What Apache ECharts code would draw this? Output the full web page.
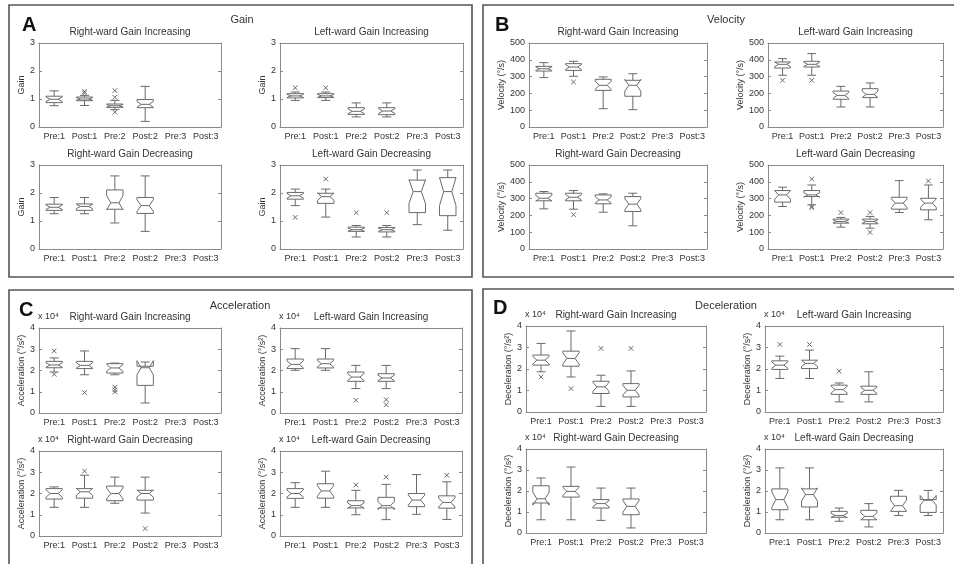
<!DOCTYPE html>
<html>
<head>
<meta charset="utf-8">
<script src="https://cdn.jsdelivr.net/npm/echarts@6/dist/echarts.min.js"></script>
<style>
html, body { margin: 0; padding: 0; background: #fff; }
#main { width: 954px; height: 564px; }
</style>
</head>
<body>
<div id="main"></div>
<script>
var cats = ['Pre:1', 'Post:1', 'Pre:2', 'Post:2', 'Pre:3', 'Post:3'];
var plotTitles = ['Right-ward Gain Increasing', 'Left-ward Gain Increasing', 'Right-ward Gain Decreasing', 'Left-ward Gain Decreasing'];

// each box: [lower whisker, q1, median, q3, upper whisker], one per category
// outliers: [category index, value]

// A - Gain
var gainRI = [[0.76, 0.87, 0.99, 1.10, 1.29], [0.77, 0.94, 1.00, 1.07, 1.13], [0.62, 0.70, 0.76, 0.82, 0.95], [0.20, 0.69, 0.81, 0.98, 1.45]];
var gainRIOut = [[1, 1.27], [1, 1.21], [2, 1.30], [2, 1.06], [2, 0.53]];
var gainLI = [[0.95, 1.04, 1.11, 1.19, 1.25], [0.95, 1.05, 1.11, 1.19, 1.25], [0.36, 0.45, 0.56, 0.69, 0.86], [0.36, 0.44, 0.57, 0.69, 0.86]];
var gainLIOut = [[0, 1.40], [1, 1.40]];
var gainRD = [[1.26, 1.38, 1.49, 1.60, 1.84], [1.26, 1.38, 1.52, 1.61, 1.84], [0.93, 1.42, 1.65, 2.11, 2.61], [0.63, 1.27, 1.55, 1.84, 2.61]];
var gainRDOut = [];
var gainLD = [[1.55, 1.78, 1.90, 2.02, 2.14], [1.14, 1.63, 1.87, 1.99, 2.14], [0.43, 0.63, 0.69, 0.78, 0.84], [0.43, 0.61, 0.69, 0.77, 0.84], [0.87, 1.30, 2.05, 2.46, 2.82], [0.67, 1.19, 2.05, 2.55, 2.82]];
var gainLDOut = [[0, 1.13], [1, 2.50], [2, 1.30], [3, 1.30]];

// B - Velocity (deg/s)
var velRI = [[294, 333, 347, 361, 383], [302, 337, 357, 377, 391], [109, 218, 248, 284, 298], [103, 183, 248, 278, 317]];
var velRIOut = [[1, 268]];
var velLI = [[308, 351, 373, 387, 407], [308, 357, 373, 391, 437], [119, 165, 188, 214, 242], [119, 175, 194, 228, 262]];
var velLIOut = [[0, 278], [1, 278]];
var velRD = [[239, 287, 302, 332, 342], [237, 287, 308, 332, 348], [219, 269, 292, 322, 328], [138, 223, 267, 312, 332]];
var velRDOut = [[1, 204]];
var velLD = [[253, 279, 322, 348, 368], [263, 312, 322, 348, 381], [130, 154, 164, 178, 188], [124, 150, 164, 178, 194], [217, 237, 273, 308, 407], [174, 233, 273, 302, 381]];
var velLDOut = [[1, 417], [1, 253], [1, 247], [2, 217], [3, 217], [3, 99], [5, 405]];

// C - Acceleration (x 10^4 deg/s^2)
var accRI = [[1.93, 2.13, 2.26, 2.43, 2.59], [1.80, 2.09, 2.24, 2.43, 2.92], [1.80, 1.88, 2.12, 2.32, 2.35], [0.47, 1.30, 2.13, 2.20, 2.40]];
var accRIOut = [[0, 2.92], [0, 1.82], [1, 0.96], [2, 1.22], [2, 1.10], [2, 0.99]];
var accLI = [[2.01, 2.09, 2.29, 2.54, 3.03], [2.01, 2.12, 2.32, 2.54, 3.03], [1.15, 1.49, 1.69, 1.93, 2.24], [1.15, 1.49, 1.65, 1.85, 2.24]];
var accLIOut = [[2, 0.60], [3, 0.63], [3, 0.39]];
var accRD = [[1.35, 1.74, 2.00, 2.23, 2.31], [1.35, 1.78, 2.08, 2.23, 2.86], [1.54, 1.66, 2.00, 2.35, 2.77], [1.08, 1.69, 2.00, 2.15, 2.77]];
var accRDOut = [[1, 3.05], [3, 0.35]];
var accLD = [[1.35, 1.77, 2.00, 2.23, 2.51], [1.35, 1.78, 2.12, 2.46, 3.05], [1.00, 1.32, 1.43, 1.66, 2.15], [0.77, 1.32, 1.43, 1.82, 2.43], [1.02, 1.38, 1.69, 2.00, 2.89], [0.78, 1.31, 1.58, 1.89, 2.55]];
var accLDOut = [[2, 2.40], [3, 2.77], [5, 2.86]];

// D - Deceleration (x 10^4 deg/s^2)
var decRI = [[1.87, 2.18, 2.41, 2.65, 3.19], [1.63, 2.13, 2.49, 2.83, 3.77], [0.26, 0.86, 1.17, 1.43, 1.71], [0.26, 0.70, 1.01, 1.32, 1.91]];
var decRIOut = [[0, 1.63], [1, 1.09], [2, 2.96], [3, 2.96]];
var decLI = [[1.56, 1.98, 2.18, 2.38, 2.60], [1.56, 2.02, 2.26, 2.41, 2.88], [0.47, 0.82, 1.04, 1.25, 1.35], [0.47, 0.82, 1.01, 1.20, 1.87]];
var decLIOut = [[0, 3.14], [1, 3.14], [2, 1.90]];
var decRD = [[0.63, 1.43, 1.63, 2.25, 2.62], [0.63, 1.71, 1.98, 2.22, 3.14], [0.60, 1.19, 1.40, 1.59, 2.14], [0.24, 0.87, 1.27, 1.62, 2.14]];
var decRDOut = [];
var decLD = [[0.63, 1.11, 1.59, 2.10, 3.10], [0.63, 1.24, 1.83, 2.10, 3.10], [0.56, 0.75, 0.83, 1.03, 1.19], [0.29, 0.63, 0.79, 1.08, 1.40], [0.83, 1.03, 1.30, 1.75, 2.03], [0.83, 0.98, 1.56, 1.59, 2.03]];
var decLDOut = [];

var FONT = "'Liberation Sans', Arial, sans-serif";
var TEXT = '#333';
var AXIS = '#8a8a8a';
var BOX = '#6a6a6a';
var NOTCH = 0.37; // notch half height, as a share of the box height (matlab style)

// panels: y axis setup + the 4 plots (rect = left, top, width, height)
var panels = [
	{ letter: 'A', name: 'Gain', lx: 22, ly: 25, tx: 242, ty: 20, max: 3, interval: 1, yName: 'Gain', gap: 13, exp: false,
		rects: [[39, 43, 182, 84], [280, 43, 183, 84], [39, 165, 182, 84], [280, 165, 183, 84]],
		boxes: [gainRI, gainLI, gainRD, gainLD], outs: [gainRIOut, gainLIOut, gainRDOut, gainLDOut] },
	{ letter: 'B', name: 'Velocity', lx: 495, ly: 25, tx: 726, ty: 20, max: 500, interval: 100, yName: 'Velocity (°/s)', gap: 20, exp: false,
		rects: [[529, 43, 178, 84], [768, 43, 175, 84], [529, 165, 178, 84], [768, 165, 175, 84]],
		boxes: [velRI, velLI, velRD, velLD], outs: [velRIOut, velLIOut, velRDOut, velLDOut] },
	{ letter: 'C', name: 'Acceleration', lx: 19, ly: 310, tx: 240, ty: 306, max: 4, interval: 1, yName: 'Acceleration (°/s²)', gap: 11, exp: true,
		rects: [[39, 328, 182, 85], [280, 328, 182, 85], [39, 451, 182, 85], [280, 451, 182, 85]],
		boxes: [accRI, accLI, accRD, accLD], outs: [accRIOut, accLIOut, accRDOut, accLDOut] },
	{ letter: 'D', name: 'Deceleration', lx: 493, ly: 308, tx: 726, ty: 306, max: 4, interval: 1, yName: 'Deceleration (°/s²)', gap: 11, exp: true,
		rects: [[526, 326, 180, 86], [765, 326, 178, 86], [526, 449, 180, 84], [765, 449, 178, 84]],
		boxes: [decRI, decLI, decRD, decLD], outs: [decRIOut, decLIOut, decRDOut, decLDOut] }
];

function renderBox(params, api) {
	var c = api.value(0);
	var lo = api.value(1), q1 = api.value(2), md = api.value(3), q3 = api.value(4), hi = api.value(5);
	var band = api.size([1, 0])[0];
	var hw = band * 0.27, cw = band * 0.15;
	var nlo = md - NOTCH * (q3 - q1), nhi = md + NOTCH * (q3 - q1);
	function p(v, dx) {
		var pt = api.coord([c, v]);
		return [pt[0] + dx, pt[1]];
	}
	function seg(a, b) {
		return { type: 'line', shape: { x1: a[0], y1: a[1], x2: b[0], y2: b[1] }, style: { stroke: BOX, lineWidth: 1 } };
	}
	var poly = [p(q1, -hw), p(nlo, -hw), p(md, -hw / 2), p(nhi, -hw), p(q3, -hw),
		p(q3, hw), p(nhi, hw), p(md, hw / 2), p(nlo, hw), p(q1, hw)];
	return {
		type: 'group',
		children: [
			seg(p(q3, 0), p(hi, 0)),
			seg(p(q1, 0), p(lo, 0)),
			seg(p(hi, -cw), p(hi, cw)),
			seg(p(lo, -cw), p(lo, cw)),
			{ type: 'polygon', shape: { points: poly }, style: { stroke: BOX, fill: null, lineWidth: 1 } },
			seg(p(md, -hw / 2), p(md, hw / 2))
		]
	};
}

function renderOut(params, api) {
	var pt = api.coord([api.value(0), api.value(1)]);
	var s = 2.3;
	var st = { stroke: BOX, lineWidth: 1 };
	return {
		type: 'group',
		children: [
			{ type: 'line', shape: { x1: pt[0] - s, y1: pt[1] - s, x2: pt[0] + s, y2: pt[1] + s }, style: st },
			{ type: 'line', shape: { x1: pt[0] - s, y1: pt[1] + s, x2: pt[0] + s, y2: pt[1] - s }, style: st }
		]
	};
}

var grids = [], xAxes = [], yAxes = [], series = [], graphics = [];
var tick = { inside: true, length: 3, alignWithLabel: true, interval: 0, lineStyle: { color: AXIS } };
var line = { show: true, onZero: false, lineStyle: { color: AXIS, width: 1 } };

// panel frames
var frames = [[9, 5, 463, 272], [483, 5, 480, 272], [9, 290, 463, 285], [483, 289, 480, 285]];
frames.forEach(function(f) {
	graphics.push({ type: 'rect', shape: { x: f[0], y: f[1], width: f[2], height: f[3] }, style: { fill: null, stroke: '#555', lineWidth: 1.6 }, silent: true });
});

panels.forEach(function(pn) {
	graphics.push({ type: 'text', x: pn.lx, y: pn.ly, style: { text: pn.letter, font: 'bold 20px ' + FONT, fill: '#111', verticalAlign: 'middle' } });
	graphics.push({ type: 'text', x: pn.tx, y: pn.ty, style: { text: pn.name, font: '11px ' + FONT, fill: TEXT, align: 'center', verticalAlign: 'middle' } });
	for (var j = 0; j < 4; j++) {
		var r = pn.rects[j];
		var k = grids.length;
		grids.push({ left: r[0], top: r[1], width: r[2], height: r[3], show: false });
		graphics.push({ type: 'text', x: r[0] + r[2] / 2, y: r[1] - 11, style: { text: plotTitles[j], font: '10px ' + FONT, fill: TEXT, align: 'center', verticalAlign: 'middle' } });
		if (pn.exp) {
			graphics.push({ type: 'text', x: r[0] - 1, y: r[1] - 11, style: { text: 'x 10⁴', font: '9px ' + FONT, fill: TEXT, verticalAlign: 'middle' } });
		}
		xAxes.push({ gridIndex: k, type: 'category', data: cats, position: 'bottom', boundaryGap: true,
			axisLine: line, axisTick: tick,
			axisLabel: { interval: 0, margin: 5, fontSize: 9, fontFamily: FONT, color: TEXT } });
		xAxes.push({ gridIndex: k, type: 'category', data: cats, position: 'top', boundaryGap: true,
			axisLine: line, axisTick: tick, axisLabel: { show: false, interval: 0 } });
		yAxes.push({ gridIndex: k, type: 'value', position: 'left', min: 0, max: pn.max, interval: pn.interval,
			axisLine: line, axisTick: { show: true, inside: true, length: 3, lineStyle: { color: AXIS } },
			splitLine: { show: false },
			axisLabel: { margin: 4, fontSize: 9, fontFamily: FONT, color: TEXT },
			name: pn.yName, nameLocation: 'middle', nameGap: pn.gap,
			nameTextStyle: { fontSize: 9, fontFamily: FONT, color: TEXT } });
		yAxes.push({ gridIndex: k, type: 'value', position: 'right', min: 0, max: pn.max, interval: pn.interval,
			axisLine: line, axisTick: { show: true, inside: true, length: 3, lineStyle: { color: AXIS } },
			splitLine: { show: false }, axisLabel: { show: false } });

		var bx = pn.boxes[j].map(function(b, i) { return [i].concat(b); });
		series.push({ type: 'custom', xAxisIndex: 2 * k, yAxisIndex: 2 * k, renderItem: renderBox,
			encode: { x: 0, y: [1, 2, 3, 4, 5] }, data: bx, silent: true });
		if (pn.outs[j].length) {
			series.push({ type: 'custom', xAxisIndex: 2 * k, yAxisIndex: 2 * k, renderItem: renderOut,
				encode: { x: 0, y: 1 }, data: pn.outs[j], silent: true });
		}
	}
});

var chart = echarts.init(document.getElementById('main'), null, { renderer: 'canvas' });
chart.setOption({
	animation: false,
	backgroundColor: '#fff',
	textStyle: { fontFamily: FONT },
	grid: grids,
	xAxis: xAxes,
	yAxis: yAxes,
	series: series,
	graphic: graphics
});
</script>
</body>
</html>
